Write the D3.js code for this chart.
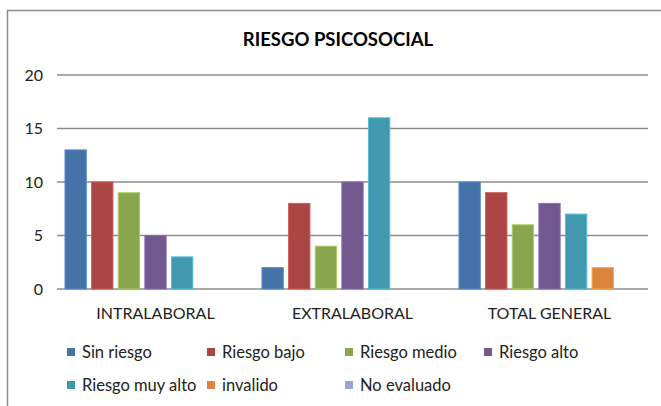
<!DOCTYPE html>
<html><head><meta charset="utf-8">
<script src="https://cdn.jsdelivr.net/npm/d3@7"></script>
<style>html,body{margin:0;padding:0;background:#fff;overflow:hidden}</style>
</head><body>
<svg id="c" width="661" height="406"></svg>
<script>
const categories = ["INTRALABORAL", "EXTRALABORAL", "TOTAL GENERAL"];
const seriesNames = ["Sin riesgo", "Riesgo bajo", "Riesgo medio", "Riesgo alto", "Riesgo muy alto", "invalido", "No evaluado"];
const sinRiesgo    = [13, 2, 10];
const riesgoBajo   = [10, 8, 9];
const riesgoMedio  = [9, 4, 6];
const riesgoAlto   = [5, 10, 8];
const riesgoMuyAlto= [3, 16, 7];
const invalido     = [0, 0, 2];
const noEvaluado   = [0, 0, 0];
const yTicks = [0, 5, 10, 15, 20];
const colors = ["#4572A7", "#AA4643", "#89A54E", "#71588F", "#4198AF", "#DB843D", "#93A9CF"];
const seriesValues = [sinRiesgo, riesgoBajo, riesgoMedio, riesgoAlto, riesgoMuyAlto, invalido, noEvaluado];

(function () {
const svg = d3.select("#c");
const font = "Lato, 'Liberation Sans', Arial, sans-serif";

svg.append("rect").attr("x", 7.5).attr("y", 10.5).attr("width", 700).attr("height", 500)
  .attr("fill", "#fff").attr("stroke", "#8c8c8c").attr("stroke-width", 1.5);

svg.append("text").attr("x", 338).attr("y", 46).attr("text-anchor", "middle")
  .attr("font-family", font).attr("font-weight", "bold").attr("font-size", 18.5)
  .attr("fill", "#000").text("RIESGO PSICOSOCIAL");

const pL = 57, pR = 648, pT = 75, pB = 289;
const x0 = d3.scaleBand().domain(categories).range([pL, pR]).padding(0);
const x1 = d3.scaleBand().domain(seriesNames).range([0, x0.bandwidth()]).paddingInner(0.2).paddingOuter(0.3);
const y = d3.scaleLinear().domain([0, 20]).range([pB, pT]);

svg.append("g").selectAll("line").data(yTicks).join("line")
  .attr("x1", pL).attr("x2", pR)
  .attr("y1", d => y(d)).attr("y2", d => y(d))
  .attr("stroke", "#8c8c8c").attr("stroke-width", 1.3);

svg.append("g").selectAll("text").data(yTicks).join("text")
  .attr("x", 43).attr("y", d => y(d)).attr("dy", "0.35em").attr("text-anchor", "end")
  .attr("font-family", font).attr("font-size", 16).attr("fill", "#222").text(d => d);

const groups = svg.append("g").selectAll("g").data(categories).join("g")
  .attr("transform", d => `translate(${x0(d)},0)`);
groups.selectAll("rect").data((c, ci) => seriesNames.map((s, si) => ({s, si, v: seriesValues[si][ci]})))
  .join("rect")
  .attr("x", d => x1(d.s)).attr("width", x1.bandwidth())
  .attr("y", d => y(d.v)).attr("height", d => pB - y(d.v))
  .attr("fill", d => colors[d.si])
  .attr("stroke", d => d3.color(colors[d.si]).brighter(0.6)).attr("stroke-width", d => d.v > 0 ? 1 : 0);

svg.append("g").selectAll("text").data(categories).join("text")
  .attr("x", d => x0(d) + x0.bandwidth() / 2).attr("y", 313).attr("dy", "0.35em")
  .attr("text-anchor", "middle").attr("font-family", font).attr("font-size", 16).attr("fill", "#222")
  .text(d => d);

const legX = [67, 207, 345, 484];
const leg = svg.append("g").selectAll("g").data(seriesNames).join("g")
  .attr("transform", (d, i) => `translate(${legX[i % 4]},${i < 4 ? 352 : 385})`);
leg.append("rect").attr("x", 0).attr("y", -4).attr("width", 8).attr("height", 8)
  .attr("fill", (d, i) => colors[i]);
leg.append("text").attr("x", 15).attr("y", 0).attr("dy", "0.35em")
  .attr("font-family", font).attr("font-size", 16.5).attr("fill", "#222").text(d => d);
})();
</script>
</body></html>
